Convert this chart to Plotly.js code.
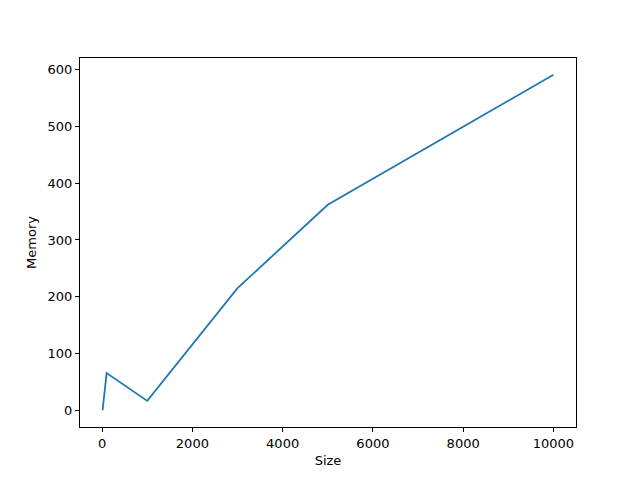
<!DOCTYPE html>
<html>
<head>
<script src="https://cdn.plot.ly/plotly-3.0.1.min.js"></script>
<style>body{margin:0;padding:0;}</style>
</head>
<body>
<div id="chart" style="width:640px;height:480px;"></div>
<script>
const sizes = [10, 100, 1000, 3000, 5000, 10000];
const memory = [0, 65.5, 16.5, 215, 362, 591];
const xTicks = [0, 2000, 4000, 6000, 8000, 10000];
const xTickText = ['0', '2000', '4000', '6000', '8000', '10000'];
const yTicks = [0, 100, 200, 300, 400, 500, 600];

const axisCommon = {
  showline: true, mirror: true, linecolor: 'black', linewidth: 1,
  ticks: 'outside', ticklen: 4, tickwidth: 1, tickcolor: 'black',
  showgrid: false, zeroline: false,
  tickfont: {family: 'DejaVu Sans', size: 13, color: 'black'}
};

Plotly.newPlot('chart', [{
  x: sizes, y: memory, type: 'scatter', mode: 'lines',
  line: {color: '#1f77b4', width: 1.8}
}], {
  width: 640, height: 480,
  margin: {l: 80, r: 64, t: 58, b: 53},
  paper_bgcolor: 'white', plot_bgcolor: 'white',
  showlegend: false,
  xaxis: Object.assign({}, axisCommon, {
    range: [-490, 10500], tickvals: xTicks, ticktext: xTickText,
    title: {text: 'Size', font: {family: 'DejaVu Sans', size: 13, color: 'black'}, standoff: 6}
  }),
  yaxis: Object.assign({}, axisCommon, {
    range: [-29.5, 620.5], tickvals: yTicks,
    title: {text: 'Memory', font: {family: 'DejaVu Sans', size: 13, color: 'black'}, standoff: 8}
  })
}, {displayModeBar: false});
</script>
</body>
</html>
